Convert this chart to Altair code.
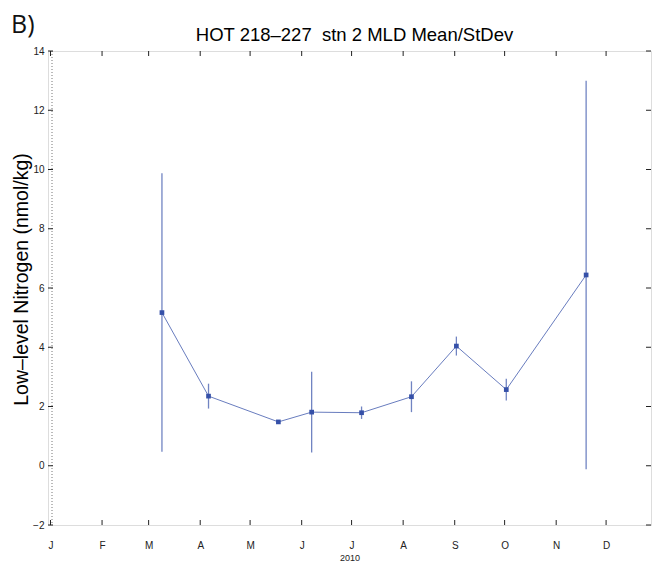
import altair as alt
import pandas as pd

# data
dates = ["2010-03-09", "2010-04-06", "2010-05-18", "2010-06-07", "2010-07-07",
         "2010-08-06", "2010-09-02", "2010-10-02", "2010-11-19"]
means = [5.17, 2.35, 1.48, 1.81, 1.79, 2.33, 4.04, 2.57, 6.44]
stdevs = [4.70, 0.42, 0.04, 1.36, 0.21, 0.52, 0.32, 0.37, 6.56]

month_labels = ["J", "F", "M", "A", "M", "J", "J", "A", "S", "O", "N", "D"]
month_days = [0, 31, 59, 90, 120, 151, 181, 212, 243, 273, 304, 334]
y_ticks = [-2, 0, 2, 4, 6, 8, 10, 12, 14]

title_text = "HOT 218\u2013227\u00a0 stn 2 MLD Mean/StDev"
panel_tag = "B)"

doy = (pd.to_datetime(dates).dayofyear - 1).tolist()
df = pd.DataFrame({
    "day": doy,
    "mean": means,
    "lo": [m - s for m, s in zip(means, stdevs)],
    "hi": [m + s for m, s in zip(means, stdevs)],
})
mdf = pd.DataFrame({"day": month_days})
ydf = pd.DataFrame({"val": y_ticks})

W, H = 603, 474
BLUE = "#3550a8"
FONT = "Liberation Sans"

label_expr = ("[" + ",".join(f"'{m}'" for m in month_labels) + "][indexof(["
              + ",".join(str(d) for d in month_days) + "], datum.value)]")

xscale = alt.Scale(domain=[-1.5, 361], nice=False, zero=False)
yscale = alt.Scale(domain=[-2, 14], nice=False, zero=False)

xaxis = alt.Axis(values=month_days, labelExpr=label_expr, tickSize=0, domain=False,
                 grid=False, labelPadding=15, labelFontSize=10, labelFont=FONT,
                 labelColor="#222", title="2010", titleFontSize=9, titleFont=FONT,
                 titleFontWeight="normal", titlePadding=3, titleColor="#222")
yaxis = alt.Axis(values=y_ticks, tickSize=0, domain=False, grid=False, labelPadding=4,
                 labelFontSize=10, labelFont=FONT, labelColor="#222",
                 title="Low\u2013level Nitrogen (nmol/kg)", titleFontSize=19.5,
                 titleFont=FONT, titleFontWeight="normal", titleColor="#000",
                 titleX=-27, titleY=228, titleAlign="center", titleBaseline="middle",
                 titleAngle=-90)

base = alt.Chart(df)

line = base.mark_line(color=BLUE, strokeWidth=1, opacity=0.75).encode(
    x=alt.X("day:Q", scale=xscale, axis=xaxis),
    y=alt.Y("mean:Q", scale=yscale, axis=yaxis),
)
err = base.mark_rule(color=BLUE, strokeWidth=1.3, opacity=0.7).encode(
    x="day:Q", y="lo:Q", y2="hi:Q"
)
pts = base.mark_square(color=BLUE, size=22, opacity=1).encode(
    x="day:Q", y="mean:Q"
)

xt_bot = alt.Chart(mdf).mark_rule(color="#222", strokeWidth=1).encode(
    x="day:Q", y=alt.value(H), y2=alt.value(H - 5))
xt_top = alt.Chart(mdf).mark_rule(color="#222", strokeWidth=1).encode(
    x="day:Q", y=alt.value(0), y2=alt.value(5))
yt_left = alt.Chart(ydf).mark_rule(color="#222", strokeWidth=1).encode(
    y="val:Q", x=alt.value(0), x2=alt.value(5))
yt_right = alt.Chart(ydf).mark_rule(color="#222", strokeWidth=1).encode(
    y="val:Q", x=alt.value(W), x2=alt.value(W - 5))

dotted = alt.Chart(mdf.head(1)).mark_rule(color="#777", strokeWidth=1,
                                          strokeDash=[1, 2]).encode(
    x=alt.value(4), y=alt.value(0), y2=alt.value(H))

tag = alt.Chart(mdf.head(1)).mark_text(text=panel_tag, font="Open Sans", fontSize=25,
                                       align="left", baseline="top",
                                       color="#111").encode(
    x=alt.value(-37), y=alt.value(-38))

title = alt.Chart(mdf.head(1)).mark_text(text=title_text, font=FONT, fontSize=18.5,
                                         align="center", baseline="alphabetic",
                                         color="#000").encode(
    x=alt.value(W / 2 + 5), y=alt.value(-10))

chart = alt.layer(dotted, err, line, pts, xt_bot, xt_top, yt_left, yt_right,
                  tag, title).properties(
    width=W, height=H,
    autosize=alt.AutoSizeParams(type="none"),
    padding={"left": 40, "top": 43, "right": 1, "bottom": 38},
).configure_view(stroke="#222", strokeWidth=1).configure(background="white")

chart.save("out.html", embed_options={"renderer": "svg", "actions": False})
